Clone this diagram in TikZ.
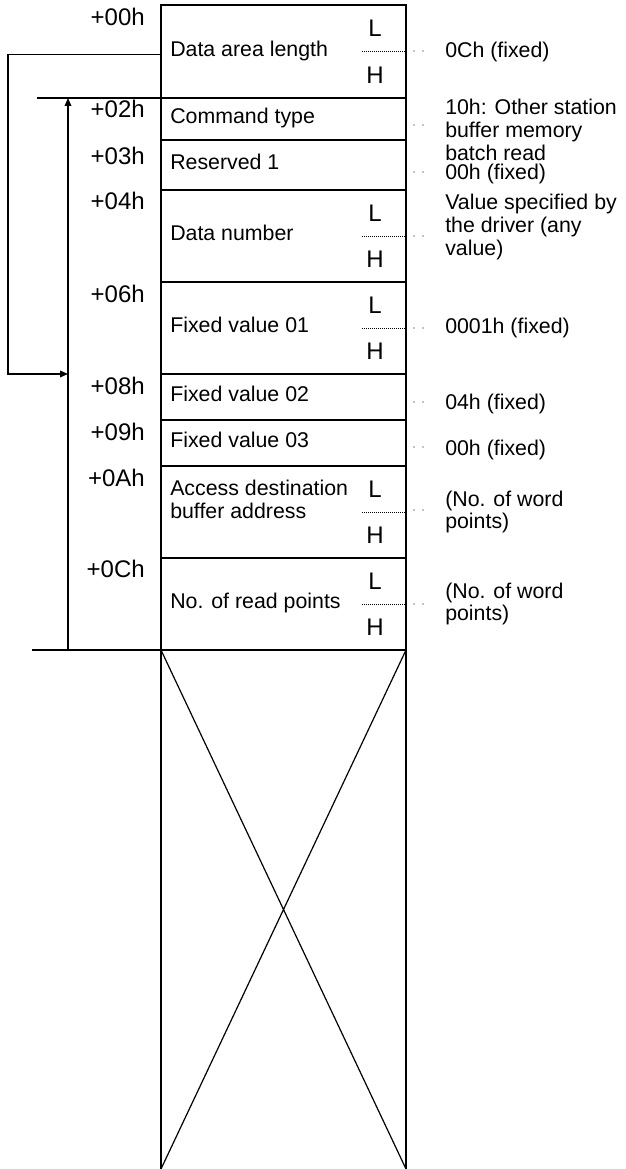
\documentclass[tikz,border=0pt]{standalone}
\usepackage{fontspec}
\setmainfont{Liberation Sans}
\usetikzlibrary{arrows.meta, positioning, calc}

\begin{document}
\begin{tikzpicture}[
    x=0.75pt, y=-0.75pt,
    field/.style={draw, line width=1.1pt, anchor=north west, inner sep=0pt, outer sep=0pt, minimum width=183.75pt},
    txt/.style={font=\fontsize{16pt}{17pt}\selectfont, inner sep=0pt},
    big/.style={font=\fontsize{18pt}{20pt}\selectfont, inner sep=0pt},
    lbl/.style={txt, anchor=west, text height=0.72em, text depth=0pt},
    ofs/.style={big, anchor=east, text height=0.72em, text depth=0pt},
    note/.style={txt, anchor=west, align=left},
    arrow/.style={-{Triangle[length=6pt, width=5pt]}, line width=0.9pt},
    plain/.style={line width=0.9pt},
    fine/.style={line width=0.6pt, dash pattern=on 0.75pt off 0.75pt}
]
    \useasboundingbox (0,0) rectangle (625,1169);

    % Frame rows
    \node[field, minimum height=93*0.75pt] (len)  at (161,5)   {};
    \node[field, minimum height=42*0.75pt] (cmd)  at (161,98)  {};
    \node[field, minimum height=50*0.75pt] (rsv)  at (161,140) {};
    \node[field, minimum height=92*0.75pt] (num)  at (161,190) {};
    \node[field, minimum height=92*0.75pt] (fix1) at (161,282) {};
    \node[field, minimum height=46*0.75pt] (fix2) at (161,374) {};
    \node[field, minimum height=46*0.75pt] (fix3) at (161,420) {};
    \node[field, minimum height=92*0.75pt] (addr) at (161,466) {};
    \node[field, minimum height=92*0.75pt] (pts)  at (161,558) {};

    % Unused area
    \coordinate (bl) at (161,1169);
    \coordinate (br) at (406,1169);
    \draw[line width=1.1pt] (pts.south west) -- (bl) (pts.south east) -- (br);
    \draw[plain] (pts.south west) -- (br) (pts.south east) -- (bl);

    % Field names
    \node[lbl, right=6.75pt of len.west]  {Data area length};
    \node[lbl, right=6.75pt of cmd.west]  {Command type};
    \node[lbl, right=6.75pt of rsv.west]  {Reserved 1};
    \node[lbl, right=6.75pt of num.west]  {Data number};
    \node[lbl, right=6.75pt of fix1.west] {Fixed value 01};
    \node[lbl, right=6.75pt of fix2.west] {Fixed value 02};
    \node[lbl, right=6.75pt of fix3.west] {Fixed value 03};
    \node[note, anchor=north west] at ($(addr.north west)+(9,14)$) {Access destination\\buffer address};
    \node[lbl, right=6.75pt of pts.west]  {No. of read points};

    % Offsets
    \node[ofs] at ($(len.north west)+(-16,16)$)  {+00h};
    \node[ofs] at ($(cmd.north west)+(-16,15)$)  {+02h};
    \node[ofs] at ($(rsv.north west)+(-16,20)$)  {+03h};
    \node[ofs] at ($(num.north west)+(-16,15)$)  {+04h};
    \node[ofs] at ($(fix1.north west)+(-16,16)$) {+06h};
    \node[ofs] at ($(fix2.north west)+(-16,16)$) {+08h};
    \node[ofs] at ($(fix3.north west)+(-16,16)$) {+09h};
    \node[ofs] at ($(addr.north west)+(-16,16)$) {+0Ah};
    \node[ofs] at ($(pts.north west)+(-16,15)$)  {+0Ch};

    % Low/high bytes of word fields
    \foreach \r in {len, num, fix1, addr, pts} {
        \node[big] at ($(\r.north west)+(214,23)$) {L};
        \node[big] at ($(\r.south west)+(214,-23)$) {H};
        \draw[fine] ($(\r.east)+(-44,0)$) -- (\r.east);
    }

    % Values
    \node[note] (v0) at (445,52)  {0Ch (fixed)};
    \node[note] (v1) at (445,130) {10h: Other station\\buffer memory\\batch read};
    \node[note] (v2) at (445,174) {00h (fixed)};
    \node[note] (v3) at (445,227) {Value specified by\\the driver (any\\value)};
    \node[note] (v4) at (445,328) {0001h (fixed)};
    \node[note] (v5) at (445,404) {04h (fixed)};
    \node[note] (v6) at (445,450) {00h (fixed)};
    \node[note] (v7) at (445,512) {(No. of word\\points)};
    \node[note] (v8) at (445,604) {(No. of word\\points)};

    % Leader dots
    \foreach \y in {51, 125, 172, 236, 328, 402, 447, 510, 604} {
        \fill (414,\y) circle (0.5pt);
        \fill (423,\y) circle (0.5pt);
    }

    % Range of the data area
    \coordinate (top) at (68,98);
    \coordinate (bot) at (68,650);
    \draw[plain] (cmd.north west) -- ++(-124,0);
    \draw[plain] (pts.south west) -- ++(-129,0);
    \draw[arrow, {Triangle[length=6pt, width=5pt]}-] (top) -- (bot);
    \draw[arrow] ($(len.west)+(0,3)$) -- ++(-153,0) |- (top |- fix2.north);
\end{tikzpicture}
\end{document}
